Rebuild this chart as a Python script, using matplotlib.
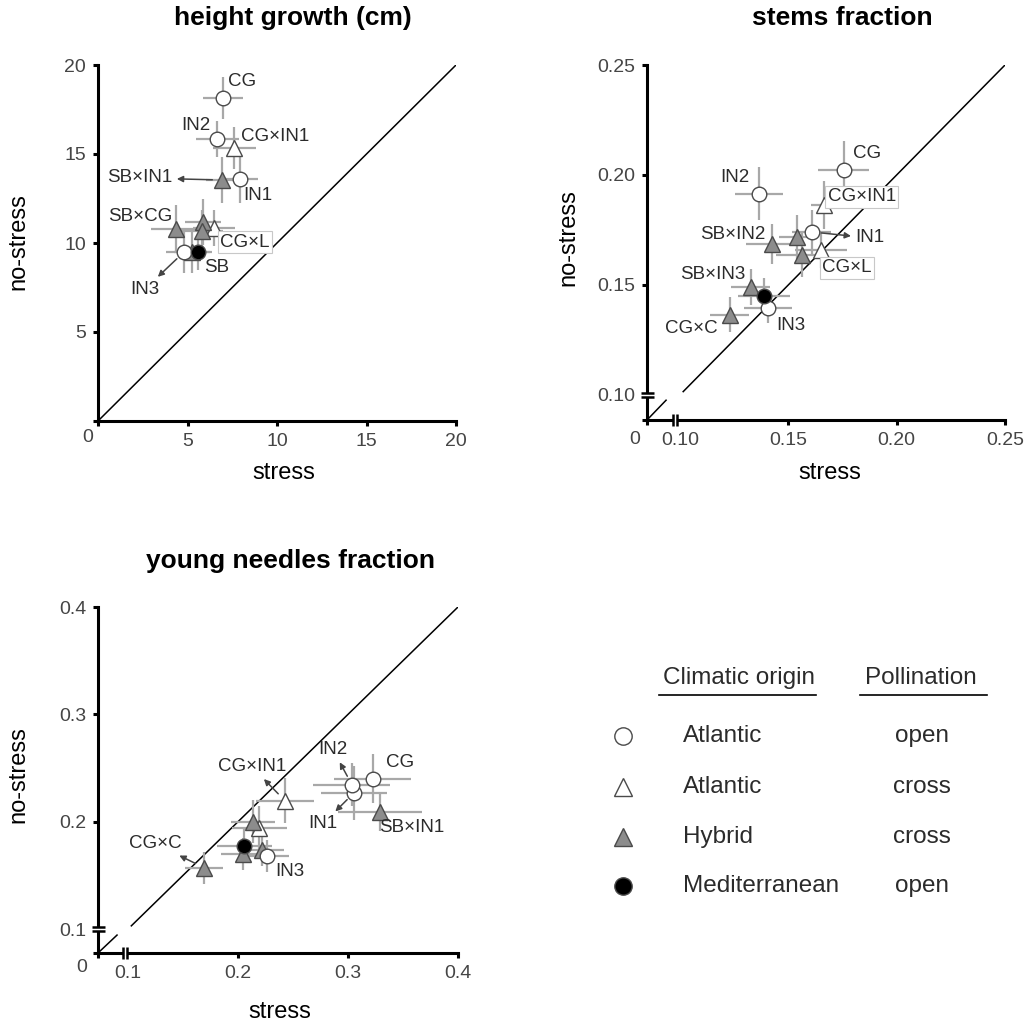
import numpy as np
import matplotlib.pyplot as plt
import matplotlib.transforms as mtransforms

plt.rcParams['font.family'] = ['Liberation Sans', 'DejaVu Sans']

W, H = 1024, 1030

names = ['CG', 'IN1', 'IN2', 'IN3', 'CG×IN1', 'CG×L',
         'SB×IN1', 'SB×IN2', 'SB×IN3', 'SB×CG', 'CG×C', 'SB']
groups = ['AO', 'AO', 'AO', 'AO', 'AC', 'AC', 'H', 'H', 'H', 'H', 'H', 'M']

# height growth (cm)
hg_stress = [6.98, 7.93, 6.65, 4.80, 7.60, 6.48, 6.93, 5.87, 5.25, 4.36, 5.81, 5.59]
hg_nostress = [18.15, 13.60, 15.84, 9.49, 15.34, 10.84, 13.54, 11.18, 9.49, 10.79, 10.67, 9.49]
hg_stress_err = [1.1, 1.0, 1.2, 1.0, 1.2, 1.2, 0.9, 1.0, 1.0, 1.4, 1.2, 0.8]
hg_nostress_err = [1.2, 1.35, 1.0, 1.2, 1.2, 1.0, 1.3, 1.3, 1.2, 1.35, 1.2, 1.0]

# stems fraction
st_stress = [0.1756, 0.1608, 0.1364, 0.1406, 0.1664, 0.1650,
             0.1539, 0.1424, 0.1327, 0.1562, 0.1230, 0.1387]
st_nostress = [0.2023, 0.1741, 0.1914, 0.1395, 0.1864, 0.1659,
               0.1718, 0.1686, 0.1491, 0.1636, 0.1364, 0.1450]
st_stress_err = [0.0117, 0.009, 0.011, 0.011, 0.006, 0.012,
                 0.008, 0.012, 0.009, 0.012, 0.009, 0.012]
st_nostress_err = [0.013, 0.010, 0.012, 0.007, 0.011, 0.008,
                   0.010, 0.009, 0.008, 0.010, 0.008, 0.008]

# young needles fraction
yn_stress = [0.3227, 0.3055, 0.3036, 0.2264, 0.2427, 0.2191,
             0.3291, 0.2136, 0.2045, 0.2218, 0.1691, 0.2055]
yn_nostress = [0.2400, 0.2270, 0.2344, 0.1684, 0.2195, 0.1944,
               0.2093, 0.2000, 0.1702, 0.1740, 0.1572, 0.1777]
yn_stress_err = [0.035, 0.030, 0.035, 0.020, 0.026, 0.025,
                 0.038, 0.020, 0.020, 0.020, 0.017, 0.025]
yn_nostress_err = [0.023, 0.025, 0.020, 0.015, 0.021, 0.020,
                   0.018, 0.020, 0.015, 0.015, 0.015, 0.016]

legend_origin = ['Atlantic', 'Atlantic', 'Hybrid', 'Mediterranean']
legend_pollination = ['open', 'cross', 'cross', 'open']
legend_groups = ['AO', 'AC', 'H', 'M']

# marker styles per group
styles = {
    'AO': dict(marker='o', mfc='white', ms=10.5, zo=4),
    'AC': dict(marker='^', mfc='white', ms=11, zo=3),
    'H': dict(marker='^', mfc='#8c8c8c', ms=11, zo=3),
    'M': dict(marker='o', mfc='black', ms=10.5, zo=5),
}

# label placement: name -> (dx px, dy px, arrow, box)
hg_labels = {
    'CG': (19, 16, False, False), 'IN2': (-21, 14, False, False),
    'CG×IN1': (41, 11, False, False), 'SB×IN1': (-82, 2, True, False),
    'IN1': (18, -17, False, False), 'SB×CG': (-36, 12, False, False),
    'CG×L': (31, -14, False, True), 'SB': (19, -15, False, False),
    'IN3': (-39, -37, True, False),
}
st_labels = {
    'CG': (23, 16, False, False), 'IN2': (-24, 16, False, False),
    'CG×IN1': (38, 8, False, True), 'SB×IN2': (-39, 10, False, False),
    'IN1': (58, -6, True, False), 'CG×L': (26, -18, False, True),
    'SB×IN3': (-38, 12, False, False), 'IN3': (23, -17, False, False),
    'CG×C': (-38, -14, False, False),
}
yn_labels = {
    'IN2': (-19, 35, True, False), 'CG': (27, 16, False, False),
    'CG×IN1': (-33, 34, True, False), 'IN1': (-31, -31, True, False),
    'SB×IN1': (32, -16, False, False), 'IN3': (23, -16, False, False),
    'CG×C': (-49, 24, True, False),
}

TXT = '#2b2b2b'
TICK_TXT = '#454545'

fig = plt.figure(figsize=(W / 100, H / 100), dpi=100)


def add_panel(l, t, r, b):
    return fig.add_axes([l / W, 1 - b / H, (r - l) / W, (b - t) / H])


def style_axes(ax):
    for s in ['top', 'right']:
        ax.spines[s].set_visible(False)
    for s in ['left', 'bottom']:
        ax.spines[s].set_linewidth(2.2)
    ax.tick_params(direction='out', length=3.5, width=2.2, labelsize=14,
                   labelcolor=TICK_TXT, pad=5)
    ax.patch.set_visible(False)


def axis_break(ax, which, val, gap_px=4, half_px=6):
    # white gap in the spine plus two short bars
    if which == 'y':
        tr = mtransforms.blended_transform_factory(ax.transAxes, ax.transData)
        inv = ax.transData.inverted()
        y_disp = ax.transData.transform((0, val))[1]
        y_lo = inv.transform((0, y_disp - gap_px / 2))[1]
        y_hi = inv.transform((0, y_disp + gap_px / 2))[1]
        wpx = ax.get_window_extent().width
        hw = half_px / wpx
        ax.plot([0, 0], [y_lo, y_hi], color='white', lw=3, transform=tr,
                clip_on=False, zorder=6, solid_capstyle='butt')
        for yy in (y_lo, y_hi):
            ax.plot([-hw, hw * 1.1], [yy, yy], color='black', lw=1.8,
                    transform=tr, clip_on=False, zorder=7,
                    solid_capstyle='butt')
    else:
        tr = mtransforms.blended_transform_factory(ax.transData, ax.transAxes)
        inv = ax.transData.inverted()
        x_disp = ax.transData.transform((val, 0))[0]
        x_lo = inv.transform((x_disp - gap_px / 2, 0))[0]
        x_hi = inv.transform((x_disp + gap_px / 2, 0))[0]
        hpx = ax.get_window_extent().height
        hh = half_px / hpx
        ax.plot([x_lo, x_hi], [0, 0], color='white', lw=3, transform=tr,
                clip_on=False, zorder=6, solid_capstyle='butt')
        for xx in (x_lo, x_hi):
            ax.plot([xx, xx], [-hh, hh], color='black', lw=1.8,
                    transform=tr, clip_on=False, zorder=7,
                    solid_capstyle='butt')


def draw_points(ax, xs, ys, xe, ye, labels):
    ax.errorbar(xs, ys, xerr=xe, yerr=ye, fmt='none', ecolor='#a8a8a8',
                elinewidth=1.6, capsize=0, zorder=2)
    for x, y, g in zip(xs, ys, groups):
        st = styles[g]
        ax.plot([x], [y], marker=st['marker'], mfc=st['mfc'], mec='#4a4a4a',
                mew=1.0, ms=st['ms'], ls='none', zorder=st['zo'],
                clip_on=False)
    for name, (dx, dy, arrow, box) in labels.items():
        i = names.index(name)
        kw = dict(xy=(xs[i], ys[i]), xytext=(dx, dy),
                  textcoords='offset pixels', ha='center', va='center',
                  fontsize=13.5, color=TXT, zorder=8)
        if box:
            kw['bbox'] = dict(boxstyle='square,pad=0.12', fc='white',
                              ec='#c8c8c8', lw=0.8)
        if arrow:
            kw['arrowprops'] = dict(arrowstyle='<|-', color='#444444', lw=1.1,
                                    mutation_scale=9, shrinkA=1, shrinkB=7)
        ax.annotate(name, **kw)


# ---- panel 1: height growth
ax1 = add_panel(98, 65, 456, 421)
style_axes(ax1)
ax1.set_xlim(0, 20)
ax1.set_ylim(0, 20)
ax1.set_xticks([0, 5, 10, 15, 20])
ax1.set_xticklabels(['', '5', '10', '15', '20'])
ax1.set_yticks([0, 5, 10, 15, 20])
ax1.set_yticklabels(['', '5', '10', '15', '20'])
ax1.plot([0, 20], [0, 20], color='black', lw=1.1, zorder=1)
draw_points(ax1, hg_stress, hg_nostress, hg_stress_err, hg_nostress_err, hg_labels)

# ---- panel 2: stems fraction
ax2 = add_panel(647, 65, 1005, 420)
style_axes(ax2)
x0, y0 = 0.0848, 0.0886
ax2.set_xlim(x0, 0.25)
ax2.set_ylim(y0, 0.25)
ax2.set_xticks([x0, 0.10, 0.15, 0.20, 0.25])
ax2.set_xticklabels(['', '0.10', '0.15', '0.20', '0.25'])
ax2.set_yticks([y0, 0.10, 0.15, 0.20, 0.25])
ax2.set_yticklabels(['', '0.10', '0.15', '0.20', '0.25'])
ax2.xaxis.get_major_ticks()[1].tick1line.set_visible(False)
ax2.yaxis.get_major_ticks()[1].tick1line.set_visible(False)
ax2.plot([0.1015, 0.25], [0.1015, 0.25], color='black', lw=1.1, zorder=1)
ax2.plot([x0, x0 + 0.0088], [y0, y0 + 0.009], color='black', lw=1.1,
         zorder=1, clip_on=False)
axis_break(ax2, 'y', 0.10)
axis_break(ax2, 'x', 0.0977)
draw_points(ax2, st_stress, st_nostress, st_stress_err, st_nostress_err, st_labels)

# ---- panel 3: young needles fraction
ax3 = add_panel(98, 607, 458, 953)
style_axes(ax3)
x0, y0 = 0.0727, 0.0777
ax3.set_xlim(x0, 0.4)
ax3.set_ylim(y0, 0.4)
ax3.set_xticks([x0, 0.1, 0.2, 0.3, 0.4])
ax3.set_xticklabels(['', '0.1', '0.2', '0.3', '0.4'])
ax3.set_yticks([y0, 0.1, 0.2, 0.3, 0.4])
ax3.set_yticklabels(['', '0.1', '0.2', '0.3', '0.4'])
ax3.xaxis.get_major_ticks()[1].tick1line.set_visible(False)
ax3.yaxis.get_major_ticks()[1].tick1line.set_visible(False)
ax3.plot([0.103, 0.4], [0.103, 0.4], color='black', lw=1.1, zorder=1)
ax3.plot([x0, x0 + 0.0173], [y0, y0 + 0.0167], color='black', lw=1.1,
         zorder=1, clip_on=False)
axis_break(ax3, 'y', 0.1)
axis_break(ax3, 'x', 0.097)
draw_points(ax3, yn_stress, yn_nostress, yn_stress_err, yn_nostress_err, yn_labels)

# ---- overlay in pixel coordinates: titles, axis labels, legend
ov = fig.add_axes([0, 0, 1, 1])
ov.set_xlim(0, W)
ov.set_ylim(H, 0)
ov.axis('off')

ov.text(293, 18, 'height growth (cm)', ha='center', va='center',
        fontsize=19, fontweight='bold', color='black')
ov.text(842, 18, 'stems fraction', ha='center', va='center',
        fontsize=19, fontweight='bold', color='black')
ov.text(290, 561, 'young needles fraction', ha='center', va='center',
        fontsize=19, fontweight='bold', color='black')

for (x, y) in [(284, 473), (830, 473), (280, 1012)]:
    ov.text(x, y, 'stress', ha='center', va='center', fontsize=17, color='black')
for (x, y) in [(18, 242), (568, 238), (18, 775)]:
    ov.text(x, y, 'no-stress', ha='center', va='center', fontsize=17,
            rotation=90, color='black')
for (x, y) in [(88, 438), (635, 439), (82, 967)]:
    ov.text(x, y, '0', ha='center', va='center', fontsize=14, color=TICK_TXT)

# legend
ov.text(739, 678, 'Climatic origin', ha='center', va='center', fontsize=17.5, color=TXT)
ov.text(921, 678, 'Pollination', ha='center', va='center', fontsize=17.5, color=TXT)
ov.plot([659, 816], [695, 695], color='black', lw=1.2)
ov.plot([860, 987], [695, 695], color='black', lw=1.2)
row_y = [736, 787, 837, 886]
for g, org, pol, yy in zip(legend_groups, legend_origin, legend_pollination, row_y):
    st = styles[g]
    ov.plot([623], [yy], marker=st['marker'], mfc=st['mfc'], mec='#4a4a4a',
            mew=1.0, ms=st['ms'] + 2, ls='none')
    ov.text(683, yy, org, ha='left', va='center', fontsize=17.5, color=TXT)
    ov.text(922, yy, pol, ha='center', va='center', fontsize=17.5, color=TXT)

fig.savefig('out.png', dpi=100)
